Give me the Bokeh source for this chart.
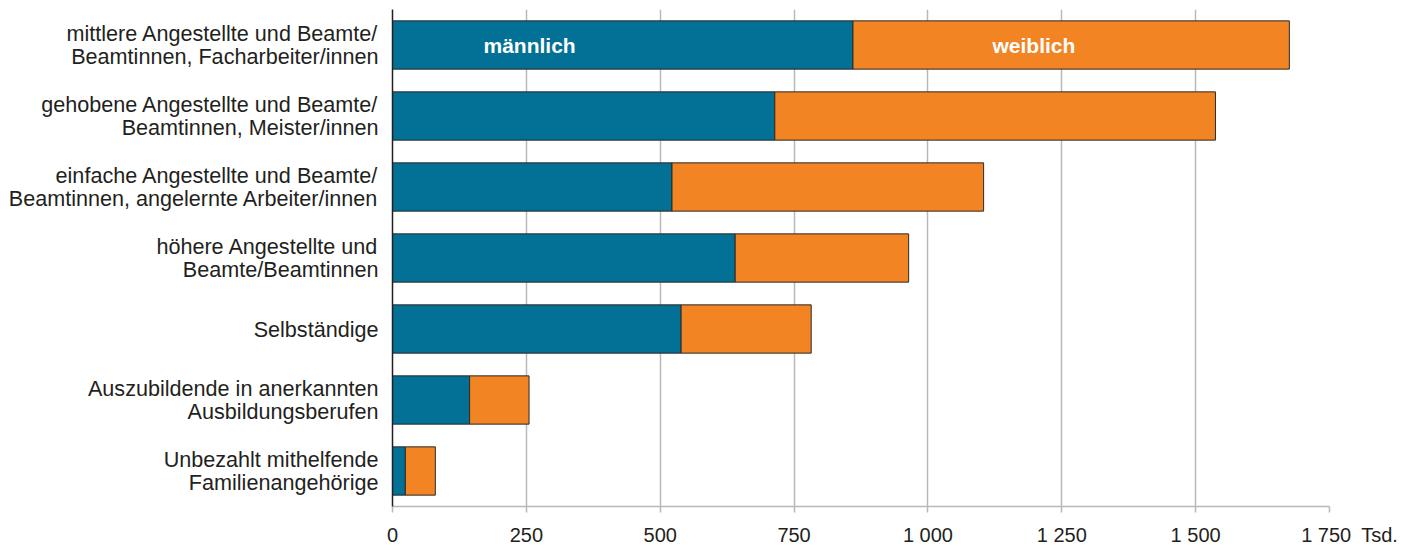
from bokeh.plotting import figure
from bokeh.models import ColumnDataSource, Range1d, FixedTicker
from bokeh.core.properties import value
from bokeh.embed import file_html
from bokeh.resources import INLINE

categories = [
    "mittlere Angestellte und Beamte/\nBeamtinnen, Facharbeiter/innen",
    "gehobene Angestellte und Beamte/\nBeamtinnen, Meister/innen",
    "einfache Angestellte und Beamte/\nBeamtinnen, angelernte Arbeiter/innen",
    "höhere Angestellte und\nBeamte/Beamtinnen",
    "Selbständige",
    "Auszubildende in anerkannten\nAusbildungsberufen",
    "Unbezahlt mithelfende\nFamilienangehörige",
]
maennlich = [860, 714, 522, 640, 539, 144, 24]
weiblich = [815, 823, 582, 324, 243, 111, 56]
x_ticks = [0, 250, 500, 750, 1000, 1250, 1500, 1750]
x_tick_labels = ["0", "250", "500", "750", "1 000", "1 250", "1 500", "1 750"]
series_names = ["männlich", "weiblich"]
series_label_x = [256, 1198]
unit_label = "Tsd."

BLUE = "#037095"
ORANGE = "#f38423"
TEXT = "#231f20"
GRID = "#b8b8b8"
FONT = "Liberation Sans"

ypos = list(range(len(categories)))
totals = [m + w for m, w in zip(maennlich, weiblich)]
src = ColumnDataSource(dict(y=ypos, m=maennlich, w=weiblich, t=totals,
                            zero=[0] * len(ypos)))

p = figure(width=1410, height=548, output_backend="svg", toolbar_location=None,
           x_range=Range1d(0, 1750), y_range=Range1d(6.5, -0.5),
           min_border_left=392, min_border_right=81, min_border_top=9,
           min_border_bottom=40)
p.outline_line_color = None

p.hbar(y="y", left="zero", right="m", height=0.68, source=src,
       fill_color=BLUE, line_color="#2a2a2a", line_width=1)
p.hbar(y="y", left="m", right="t", height=0.68, source=src,
       fill_color=ORANGE, line_color="#2a2a2a", line_width=1)

p.text(x=series_label_x, y=[0, 0], text=series_names, text_color="white",
       text_font=value(FONT), text_font_style="bold", text_font_size="21px",
       text_align="center", text_baseline="middle")

# x axis (unit appended to the last tick label, padded to keep the number centred)
overrides = {t: l for t, l in zip(x_ticks, x_tick_labels)}
overrides[x_ticks[-1]] = "\u2003\u2003" + x_tick_labels[-1] + "\u2002" + unit_label
p.xaxis.ticker = FixedTicker(ticks=x_ticks)
p.xaxis.major_label_overrides = overrides
p.xaxis.minor_tick_line_color = None
p.xaxis.axis_line_color = GRID
p.xaxis.axis_line_width = 1.5
p.xaxis.major_tick_line_color = GRID
p.xaxis.major_tick_line_width = 1.5
p.xaxis.major_tick_in = 0
p.xaxis.major_tick_out = 6
p.xaxis.major_label_text_font = FONT
p.xaxis.major_label_text_font_size = "20px"
p.xaxis.major_label_text_color = TEXT
p.xaxis.major_label_standoff = 11

# y axis
p.yaxis.ticker = FixedTicker(ticks=ypos)
p.yaxis.major_label_overrides = {i: c for i, c in zip(ypos, categories)}
p.yaxis.minor_tick_line_color = None
p.yaxis.major_tick_line_color = None
p.yaxis.axis_line_color = TEXT
p.yaxis.axis_line_width = 1.5
p.yaxis.major_label_text_font = FONT
p.yaxis.major_label_text_font_size = "21.6px"
p.yaxis.major_label_text_line_height = 0.92
p.yaxis.major_label_text_color = TEXT
p.yaxis.major_label_standoff = 8

p.xgrid.grid_line_color = GRID
p.xgrid.grid_line_width = 1.5
p.ygrid.grid_line_color = None

open("out.html", "w").write(file_html(p, INLINE))
